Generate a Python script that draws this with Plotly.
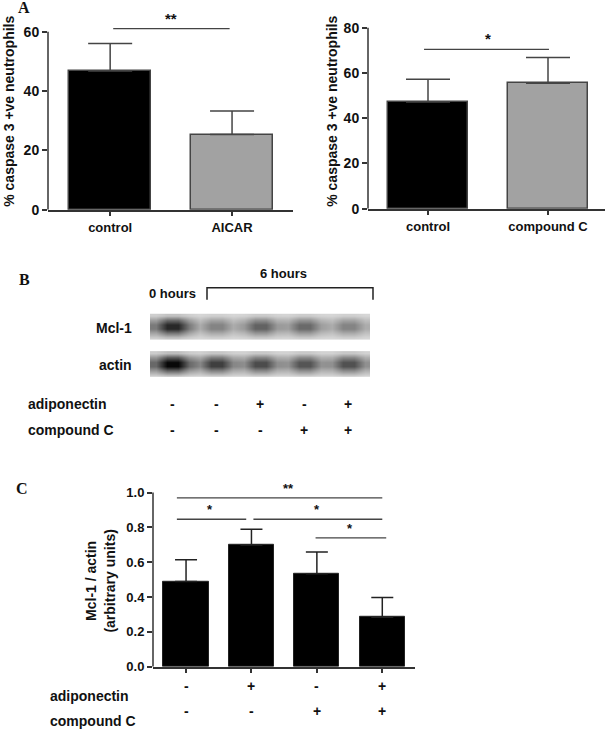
import plotly.graph_objects as go

# panel A, left: AICAR
a1_groups = ["control", "AICAR"]
a1_mean = [46.7, 25.3]
a1_sem = [9.3, 8.0]

# panel A, right: compound C
a2_groups = ["control", "compound C"]
a2_mean = [47.2, 55.5]
a2_sem = [10.0, 11.3]

# panel B: band darkness per lane (0 = background, 1 = black)
lanes = [0, 1, 2, 3, 4]
mcl1_band = [0.85, 0.42, 0.58, 0.54, 0.42]
actin_band = [1.00, 0.74, 0.68, 0.64, 0.66]
b_adipo = ["-", "-", "+", "-", "+"]
b_compc = ["-", "-", "-", "+", "+"]

# panel C: Mcl-1 / actin
c_pos = [0, 1, 2, 3]
c_mean = [0.489, 0.699, 0.534, 0.284]
c_sem = [0.125, 0.091, 0.125, 0.114]
c_adipo = ["-", "+", "-", "+"]
c_compc = ["-", "-", "+", "+"]

BOLD = dict(family="Liberation Sans", color="#111111", weight="bold")
AXC = "#333333"


def font(size):
    return dict(BOLD, size=size)


fig = go.Figure()

# ---- A bars
fig.add_trace(go.Bar(
    x=a1_groups, y=a1_mean, width=0.67, xaxis="x", yaxis="y",
    marker=dict(color=["#000000", "#a2a2a2"], line=dict(color="#444444", width=1.5)),
    error_y=dict(type="data", array=a1_sem, arrayminus=[0, 0], symmetric=False,
                 color="#444444", thickness=1.5, width=22),
    hoverinfo="skip",
))
fig.add_trace(go.Bar(
    x=a2_groups, y=a2_mean, width=0.67, xaxis="x2", yaxis="y2",
    marker=dict(color=["#000000", "#a2a2a2"], line=dict(color="#444444", width=1.5)),
    error_y=dict(type="data", array=a2_sem, arrayminus=[0, 0], symmetric=False,
                 color="#444444", thickness=1.5, width=22),
    hoverinfo="skip",
))

# ---- C bars
fig.add_trace(go.Bar(
    x=c_pos, y=c_mean, width=0.69, xaxis="x3", yaxis="y3",
    marker=dict(color="#000000", line=dict(color="#222222", width=1)),
    error_y=dict(type="data", array=c_sem, arrayminus=[0] * 4, symmetric=False,
                 color="#222222", thickness=1.5, width=11),
    hoverinfo="skip",
))

# ---- B blot: each strip is a soft heatmap built from the band darkness
bg = 0.03
hprof = [0.55, 1.0, 1.0, 0.55]
vprof = [0.15, 0.6, 1.0, 1.0, 0.6, 0.15]
xs = [l - 0.375 + 0.25 * k for l in lanes for k in range(4)]


def strip(bands):
    rows = []
    for v in vprof:
        rows.append([bg + (1 - bg) * b * v * h for b in bands for h in hprof])
    return rows


gap = 2.77
blot_scale = [[0, "#e4e4e4"], [1, "#080808"]]
fig.add_trace(go.Heatmap(
    z=strip(actin_band), x=xs, y=list(range(6)), xaxis="x4", yaxis="y4",
    zmin=0, zmax=1, zsmooth="best", showscale=False, hoverinfo="skip",
    colorscale=blot_scale,
))
fig.add_trace(go.Heatmap(
    z=strip(mcl1_band), x=xs, y=[6 + gap + i for i in range(6)], xaxis="x4", yaxis="y4",
    zmin=0, zmax=1, zsmooth="best", showscale=False, hoverinfo="skip",
    colorscale=blot_scale,
))


def px(x):
    return x / 609


def py(y):
    return 1 - y / 737


common_x = dict(showline=True, linecolor=AXC, linewidth=1.5, ticks="outside",
                ticklen=5, tickwidth=1.5, tickcolor=AXC, showgrid=False, zeroline=False,
                tickfont=font(13), fixedrange=True)
common_y = dict(showline=False, ticks="outside", ticklen=5, tickwidth=1.5, tickcolor=AXC,
                showgrid=False, zeroline=False, tickfont=font(14), fixedrange=True)

fig.update_layout(
    width=609, height=737, margin=dict(l=0, r=0, t=0, b=0),
    paper_bgcolor="white", plot_bgcolor="white", showlegend=False, bargap=0,
    xaxis=dict(common_x, domain=[px(48), px(293)], range=[-0.51, 1.5], anchor="y"),
    yaxis=dict(common_y, domain=[py(212), py(10)], range=[0, 67.33], dtick=20, anchor="x"),
    xaxis2=dict(common_x, domain=[px(368), px(605)], range=[-0.5, 1.475], anchor="y2"),
    yaxis2=dict(common_y, domain=[py(211), py(10)], range=[0, 87.87], dtick=20, anchor="x2"),
    xaxis3=dict(common_x, domain=[px(153), px(415)], range=[-0.505, 3.5], anchor="y3",
                tickvals=c_pos, showticklabels=False),
    yaxis3=dict(common_y, domain=[py(674), py(480)], range=[0, 1.1023], dtick=0.2,
                tickformat=".1f", tickfont=font(13), anchor="x3"),
    xaxis4=dict(domain=[px(150), px(370)], range=[-0.5, 4.5], visible=False, anchor="y4",
                fixedrange=True),
    yaxis4=dict(domain=[py(381), py(317)], range=[-0.5, 6 + gap + 5.5], visible=False,
                anchor="x4", fixedrange=True),
)

shapes = []
# y-axis lines stop at the last tick, as in the original
for yref, top in [("y", 60), ("y2", 80), ("y3", 1.0)]:
    xr = {"y": "x", "y2": "x2", "y3": "x3"}[yref]
    shapes.append(dict(type="line", xref=xr + " domain", yref=yref, x0=0, x1=0, y0=0, y1=top,
                       line=dict(color=AXC, width=1.5)))

# significance brackets: (xref, yref, x0, x1, y, label, label x)
sig = [
    ("x", "y", 0.025, 0.98, 61.0, "**", 0.5),
    ("x2", "y2", -0.033, 1.008, 70.4, "*", 0.5),
    ("x3", "y3", -0.14, 3.0, 0.97, "**", 1.56),
    ("x3", "y3", -0.14, 0.92, 0.847, "*", 0.37),
    ("x3", "y3", 1.03, 3.0, 0.847, "*", 2.0),
    ("x3", "y3", 1.98, 3.06, 0.74, "*", 2.5),
]
annotations = []
for xr, yr, x0, x1, y, lab, lx in sig:
    shapes.append(dict(type="line", xref=xr, yref=yr, x0=x0, x1=x1, y0=y, y1=y,
                       line=dict(color="#444444", width=1.3)))
    annotations.append(dict(xref=xr, yref=yr, x=lx, y=y, text=lab, showarrow=False,
                            yanchor="bottom", yshift=0,
                            font=font(15 if yr != "y3" else 13)))

# bracket over the 6 hour lanes
shapes.append(dict(type="path", xref="paper", yref="paper",
                   path="M %f %f L %f %f L %f %f L %f %f" % (
                       px(207), py(303), px(207), py(291), px(373), py(291), px(373), py(303)),
                   line=dict(color="#222222", width=1.5)))


def ann(x, y, text, size, xanchor="center", angle=0, family=None, **kw):
    f = font(size)
    if family:
        f["family"] = family
    d = dict(xref="paper", yref="paper", x=px(x), y=py(y), text=text, showarrow=False,
             xanchor=xanchor, yanchor="middle", textangle=angle, font=f)
    d.update(kw)
    annotations.append(d)


# panel letters
ann(24, 8, "A", 16, family="Liberation Serif")
ann(24, 283, "B", 16, family="Liberation Serif")
ann(22, 494, "C", 16, family="Liberation Serif")

# axis titles
ann(9, 113, "% caspase 3 +ve neutrophils", 14, angle=-90)
ann(332, 113, "% caspase 3 +ve neutrophils", 14, angle=-90)
ann(100, 588, "Mcl-1 / actin<br>(arbitrary units)", 14, angle=-90)

# blot labels
ann(283, 277, "6 hours", 13)
ann(172, 297, "0 hours", 13)
ann(134, 332, "Mcl-1", 14, xanchor="right")
ann(134, 369, "actin", 14, xanchor="right")
ann(26, 408, "adiponectin", 14, xanchor="left")
ann(26, 435, "compound C", 14, xanchor="left")
for l, a, c in zip(lanes, b_adipo, b_compc):
    annotations.append(dict(xref="x4", yref="paper", x=l, y=py(408), text=a,
                            showarrow=False, font=font(14)))
    annotations.append(dict(xref="x4", yref="paper", x=l, y=py(435), text=c,
                            showarrow=False, font=font(14)))

# treatment table under panel C
ann(48, 704, "adiponectin", 14, xanchor="left")
ann(48, 729, "compound C", 14, xanchor="left")
for p, a, c in zip(c_pos, c_adipo, c_compc):
    annotations.append(dict(xref="x3", yref="paper", x=p, y=py(704), text=a,
                            showarrow=False, font=font(14)))
    annotations.append(dict(xref="x3", yref="paper", x=p, y=py(729), text=c,
                            showarrow=False, font=font(14)))

fig.update_layout(shapes=shapes, annotations=annotations)

# no page margin, so the figure sits at the window origin
page_js = (
    "var s=document.createElement('style');"
    "s.textContent='html,body{margin:0;padding:0;overflow:hidden}';"
    "document.head.appendChild(s);"
)
fig.write_html("out.html", post_script=page_js, config={"displayModeBar": False})
